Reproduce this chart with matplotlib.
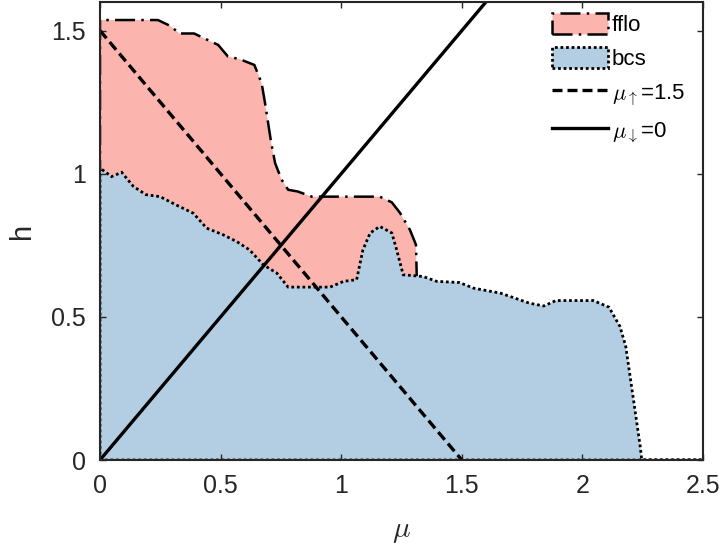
import numpy as np
import matplotlib
matplotlib.use('Agg')
from matplotlib import pyplot as plt

plt.rcParams['font.family'] = ['Liberation Sans', 'DejaVu Sans']
plt.rcParams['mathtext.fontset'] = 'cm'

# fflo upper boundary (mu, h)
fflo_mu = [0.0, 0.24, 0.29, 0.33, 0.39, 0.44, 0.49, 0.53, 0.58, 0.64, 0.67, 0.684,
           0.71, 0.726, 0.753, 0.78, 0.82, 0.878, 1.16, 1.21, 1.244, 1.285, 1.31, 1.313]
fflo_h = [1.537, 1.537, 1.517, 1.49, 1.49, 1.47, 1.45, 1.41, 1.40, 1.38, 1.317, 1.248,
          1.107, 1.037, 0.979, 0.944, 0.938, 0.92, 0.92, 0.90, 0.863, 0.804, 0.752, 0.65]

# bcs upper boundary (mu, h)
bcs_mu = [0.0, 0.048, 0.09, 0.138, 0.19, 0.249, 0.318, 0.387, 0.442, 0.51, 0.567, 0.62,
          0.677, 0.733, 0.78, 0.954, 1.01, 1.064, 1.09, 1.12, 1.16, 1.21, 1.23, 1.257,
          1.34, 1.396, 1.49, 1.55, 1.66, 1.78, 1.84, 1.89, 2.045, 2.11, 2.156, 2.18,
          2.21, 2.24, 2.246, 2.5]
bcs_h = [1.02, 0.99, 1.005, 0.956, 0.927, 0.92, 0.89, 0.862, 0.81, 0.787, 0.763, 0.734,
         0.682, 0.653, 0.604, 0.604, 0.624, 0.63, 0.734, 0.793, 0.816, 0.793, 0.734, 0.647,
         0.641, 0.624, 0.62, 0.60, 0.583, 0.548, 0.538, 0.557, 0.557, 0.534, 0.466, 0.396,
         0.221, 0.046, 0.0, 0.0]

mu_up = 1.5
mu_down = 0.0

fig = plt.figure(figsize=(7.19, 5.44), dpi=100)
ax = fig.add_axes([100/719, 84/544, 603/719, 458/544])

# fflo region (pink), bcs drawn on top
ax.fill([0.0] + fflo_mu + [fflo_mu[-1], 0.0], [0.0] + fflo_h + [0.0, 0.0],
        facecolor='#fbb4ae', edgecolor='black', lw=1.8, linestyle=(0, (8, 2.5, 1, 2.5)),
        label='fflo', zorder=1)
ax.fill([0.0] + bcs_mu + [0.0], [0.0] + bcs_h + [0.0],
        facecolor='#b3cde3', edgecolor='black', lw=2.0, linestyle=(0, (1, 1)),
        label='bcs', zorder=1.5)

# lines of constant chemical potential
mu_a = np.array([0.0, mu_up - mu_down])
ax.plot(mu_a, mu_up - mu_a, color='black', lw=2.4, linestyle=(0, (3, 1.5)),
        label=r'$\mu_\uparrow$=1.5', zorder=3)
mu_b = np.array([mu_down, 2.5])
ax.plot(mu_b, mu_b - mu_down, color='black', lw=2.4, label=r'$\mu_\downarrow$=0', zorder=3)

ax.set_xlim(0, 2.5)
ax.set_ylim(0, 1.6)
ax.set_xticks([0, 0.5, 1, 1.5, 2, 2.5])
ax.set_xticklabels(['0', '0.5', '1', '1.5', '2', '2.5'])
ax.set_yticks([0, 0.5, 1, 1.5])
ax.set_yticklabels(['0', '0.5', '1', '1.5'])
ax.tick_params(direction='in', length=4, width=1, top=True, right=True,
               labelsize=18, pad=10, colors='#262626', labelcolor='#262626')
for s in ax.spines.values():
    s.set_linewidth(1.5)
    s.set_color('#262626')
    s.set_zorder(4)

ax.set_xlabel(r'$\mu$', fontsize=21, labelpad=14, color='#262626')
ax.set_ylabel('h', fontsize=21, labelpad=11, color='#262626')

leg = ax.legend(loc='upper left', bbox_to_anchor=(552/719, 1 - 13/544),
                bbox_transform=fig.transFigure, frameon=False, fontsize=16,
                handlelength=2.5, handleheight=1.05, handletextpad=0.2,
                labelspacing=0.5, borderpad=0, borderaxespad=0)

fig.savefig('out.png', dpi=100)
